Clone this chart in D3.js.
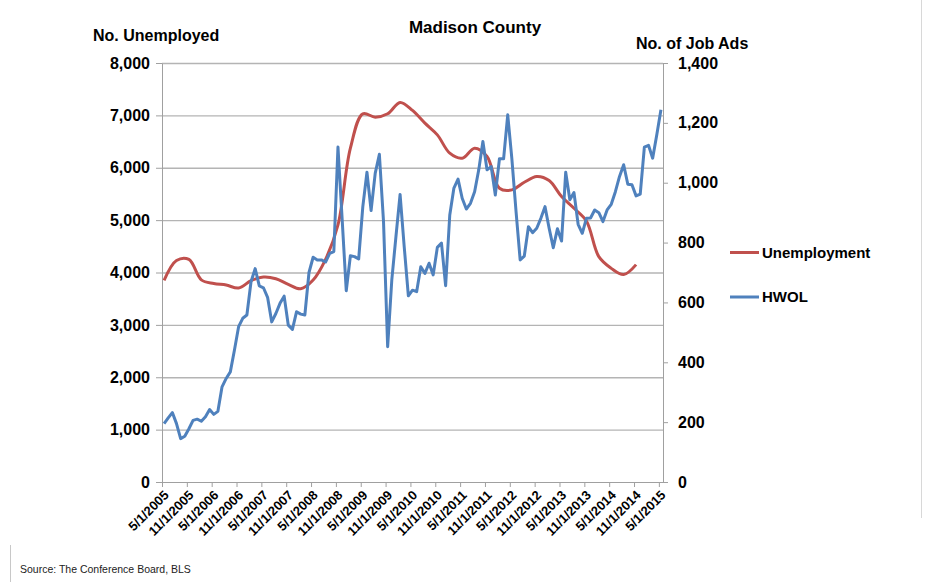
<!DOCTYPE html>
<html>
<head>
<meta charset="utf-8">
<script src="https://cdn.jsdelivr.net/npm/d3@7"></script>
<style>
  body { margin: 0; background: #fff; }
  text { font-family: "Liberation Sans", Arial, sans-serif; }
</style>
</head>
<body>
<script>
// x axis labels, one every 6 months (monthly data, 5/2005 .. 5/2015)
let tickLabels = ["5/1/2005", "11/1/2005", "5/1/2006", "11/1/2006", "5/1/2007", "11/1/2007",
    "5/1/2008", "11/1/2008", "5/1/2009", "11/1/2009", "5/1/2010", "11/1/2010", "5/1/2011",
    "11/1/2011", "5/1/2012", "11/1/2012", "5/1/2013", "11/1/2013", "5/1/2014", "11/1/2014", "5/1/2015"];

let months = d3.timeMonths(new Date(2005, 4, 1), new Date(2015, 5, 1));  // 121 categories

// HWOL job ads, monthly (right axis)
let hwol = [195, 214, 232, 195, 145, 153, 178, 206, 210, 203, 218, 242, 226, 236, 318, 346,
    368, 441, 519, 547, 558, 669, 713, 655, 649, 617, 535, 563, 597, 621, 524, 510, 569, 561,
    558, 700, 751, 742, 742, 735, 764, 770, 1119, 880, 639, 756, 753, 745, 920, 1035, 907,
    1032, 1095, 870, 452, 675, 820, 961, 786, 622, 641, 636, 719, 697, 731, 692, 784, 798,
    656, 892, 982, 1012, 948, 912, 931, 970, 1043, 1138, 1043, 1054, 959, 1080, 1080, 1227,
    1080, 905, 742, 755, 853, 833, 848, 881, 920, 848, 783, 846, 805, 1035, 943, 967, 861,
    831, 881, 882, 909, 900, 870, 909, 928, 970, 1021, 1060, 995, 993, 956, 962, 1119, 1125,
    1082, 1160, 1244];

// unemployment, read every 3rd month from 5/2005 (left axis)
let unempStep = 3;
let unemployment = [3850, 4230, 4250, 3860, 3790, 3760, 3703, 3843, 3913, 3881, 3773, 3690,
    3856, 4250, 4908, 6373, 7030, 6966, 7030, 7247, 7094, 6851, 6628, 6278, 6182, 6373,
    6214, 5609, 5577, 5723, 5832, 5755, 5449, 5226, 4984, 4302, 4079, 3960, 4150];

let seriesNames = ["Unemployment", "HWOL"];
let colors = ["#c0504d", "#4f81bd"];

let W = 928, H = 582;
let plot = {left: 162, right: 663, top: 63, bottom: 482};

let svg = d3.select("body").append("svg")
    .attr("width", W)
    .attr("height", H);

// frame bits from the original slide
svg.append("line").attr("x1", 10.5).attr("x2", 10.5).attr("y1", 545).attr("y2", H)
    .attr("stroke", "#c8c8c8");
svg.append("line").attr("x1", 921.5).attr("x2", 921.5).attr("y1", 0).attr("y2", 518)
    .attr("stroke", "#d8d8d8");

let x = d3.scaleLinear().domain([0, months.length]).range([plot.left, plot.right]);
let bw = x(1) - x(0);
let yLeft = d3.scaleLinear().domain([0, 8000]).range([plot.bottom, plot.top]);
let yRight = d3.scaleLinear().domain([0, 1400]).range([plot.bottom, plot.top]);

// gridlines
svg.append("g")
    .attr("transform", `translate(${plot.left},0)`)
    .call(d3.axisLeft(yLeft).tickValues(d3.range(1000, 8001, 1000))
        .tickSize(-(plot.right - plot.left)).tickFormat(""))
    .call(g => g.select(".domain").remove())
    .call(g => g.selectAll("line").attr("stroke", "#b4b4b4").attr("stroke-width", 1.3));

// left axis
svg.append("g")
    .attr("transform", `translate(${plot.left},0)`)
    .call(d3.axisLeft(yLeft).tickValues(d3.range(0, 8001, 1000))
        .tickSizeInner(6).tickSizeOuter(0).tickPadding(6).tickFormat(d3.format(",")))
    .call(g => g.select(".domain").attr("stroke", "#a0a0a0"))
    .call(g => g.selectAll("line").attr("stroke", "#a0a0a0"))
    .call(g => g.selectAll("text").attr("font-size", 16).attr("font-weight", "bold").attr("fill", "#000"));

// right axis
svg.append("g")
    .attr("transform", `translate(${plot.right},0)`)
    .call(d3.axisRight(yRight).tickValues(d3.range(0, 1401, 200))
        .tickSizeInner(5).tickSizeOuter(0).tickPadding(10).tickFormat(d3.format(",")))
    .call(g => g.select(".domain").attr("stroke", "#a0a0a0"))
    .call(g => g.selectAll("line").attr("stroke", "#a0a0a0"))
    .call(g => g.selectAll("text").attr("font-size", 16).attr("font-weight", "bold").attr("fill", "#000"));

// bottom axis, ticks between categories, labels on category
svg.append("g")
    .attr("transform", `translate(0,${plot.bottom})`)
    .call(d3.axisBottom(x).tickValues(d3.range(0, months.length, 6))
        .tickSizeInner(5).tickSizeOuter(0).tickFormat((d, i) => tickLabels[i]))
    .call(g => g.select(".domain").attr("stroke", "#a0a0a0"))
    .call(g => g.selectAll("line").attr("stroke", "#a0a0a0"))
    .call(g => g.selectAll("text")
        .attr("font-size", 13).attr("font-weight", "bold").attr("fill", "#000")
        .attr("text-anchor", "end")
        .attr("x", 0).attr("y", 0).attr("dy", null)
        .attr("transform", `translate(${bw / 2 + 5},14) rotate(-45)`));

// lines
let unempLine = d3.line()
    .x((d, i) => x(i * unempStep + 0.5))
    .y(d => yLeft(d))
    .curve(d3.curveCatmullRom.alpha(0.5));

let hwolLine = d3.line()
    .x((d, i) => x(i + 0.5))
    .y(d => yRight(d));

svg.append("path")
    .datum(unemployment)
    .attr("d", unempLine)
    .attr("fill", "none")
    .attr("stroke", colors[0])
    .attr("stroke-width", 3)
    .attr("stroke-linejoin", "round");

svg.append("path")
    .datum(hwol)
    .attr("d", hwolLine)
    .attr("fill", "none")
    .attr("stroke", colors[1])
    .attr("stroke-width", 3)
    .attr("stroke-linejoin", "round");

// titles
svg.append("text")
    .attr("x", 475).attr("y", 33)
    .attr("text-anchor", "middle")
    .attr("font-size", 17).attr("font-weight", "bold")
    .text("Madison County");

svg.append("text")
    .attr("x", 93).attr("y", 41)
    .attr("font-size", 16).attr("font-weight", "bold")
    .text("No. Unemployed");

svg.append("text")
    .attr("x", 636).attr("y", 49)
    .attr("font-size", 16).attr("font-weight", "bold")
    .text("No. of Job Ads");

// legend
let legend = svg.selectAll(".legend")
    .data(seriesNames)
    .enter()
    .append("g")
    .attr("class", "legend")
    .attr("transform", (d, i) => `translate(730, ${252.5 + i * 44.5})`);

legend.append("line")
    .attr("x1", 0).attr("x2", 29)
    .attr("stroke", (d, i) => colors[i])
    .attr("stroke-width", 3);

legend.append("text")
    .attr("x", 32)
    .attr("dy", "0.35em")
    .attr("font-size", 15).attr("font-weight", "bold")
    .text(d => d);

// source
svg.append("text")
    .attr("x", 20).attr("y", 573)
    .attr("font-size", 10.5)
    .attr("fill", "#222")
    .text("Source: The Conference Board, BLS");
</script>
</body>
</html>
